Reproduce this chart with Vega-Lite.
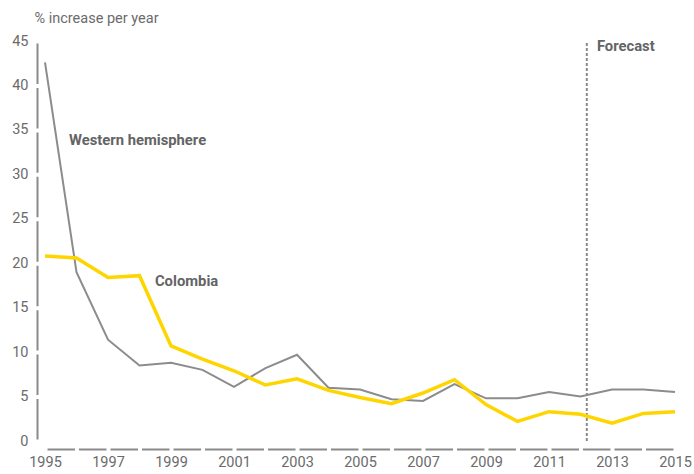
{
  "$schema": "https://vega.github.io/schema/vega-lite/v6.json",
  "width": 630,
  "height": 400,
  "autosize": {"type": "none"},
  "padding": {"left": 45, "top": 41, "right": 19, "bottom": 33},
  "background": "white",
  "config": {
    "view": {"stroke": null},
    "font": "Roboto",
    "axis": {"labelFont": "Roboto", "titleFont": "Roboto", "labelColor": "#6b6b6b", "titleColor": "#6b6b6b", "labelFontSize": 14.5, "grid": false, "ticks": false, "tickSize": 0, "domainColor": "#8a8a8a", "domainWidth": 2}
  },
  "datasets": {
    "series": [
      {"year": 1995, "series": "Western hemisphere", "value": 42.6},
      {"year": 1996, "series": "Western hemisphere", "value": 19.0},
      {"year": 1997, "series": "Western hemisphere", "value": 11.4},
      {"year": 1998, "series": "Western hemisphere", "value": 8.5},
      {"year": 1999, "series": "Western hemisphere", "value": 8.8},
      {"year": 2000, "series": "Western hemisphere", "value": 8.0},
      {"year": 2001, "series": "Western hemisphere", "value": 6.1},
      {"year": 2002, "series": "Western hemisphere", "value": 8.2},
      {"year": 2003, "series": "Western hemisphere", "value": 9.7},
      {"year": 2004, "series": "Western hemisphere", "value": 6.0},
      {"year": 2005, "series": "Western hemisphere", "value": 5.8},
      {"year": 2006, "series": "Western hemisphere", "value": 4.7},
      {"year": 2007, "series": "Western hemisphere", "value": 4.5},
      {"year": 2008, "series": "Western hemisphere", "value": 6.4},
      {"year": 2009, "series": "Western hemisphere", "value": 4.8},
      {"year": 2010, "series": "Western hemisphere", "value": 4.8},
      {"year": 2011, "series": "Western hemisphere", "value": 5.5},
      {"year": 2012, "series": "Western hemisphere", "value": 5.0},
      {"year": 2013, "series": "Western hemisphere", "value": 5.8},
      {"year": 2014, "series": "Western hemisphere", "value": 5.8},
      {"year": 2015, "series": "Western hemisphere", "value": 5.5},
      {"year": 1995, "series": "Colombia", "value": 20.8},
      {"year": 1996, "series": "Colombia", "value": 20.6},
      {"year": 1997, "series": "Colombia", "value": 18.4},
      {"year": 1998, "series": "Colombia", "value": 18.6},
      {"year": 1999, "series": "Colombia", "value": 10.7},
      {"year": 2000, "series": "Colombia", "value": 9.2},
      {"year": 2001, "series": "Colombia", "value": 7.9},
      {"year": 2002, "series": "Colombia", "value": 6.3},
      {"year": 2003, "series": "Colombia", "value": 7.0},
      {"year": 2004, "series": "Colombia", "value": 5.7},
      {"year": 2005, "series": "Colombia", "value": 4.9},
      {"year": 2006, "series": "Colombia", "value": 4.2},
      {"year": 2007, "series": "Colombia", "value": 5.4},
      {"year": 2008, "series": "Colombia", "value": 6.9},
      {"year": 2009, "series": "Colombia", "value": 4.1},
      {"year": 2010, "series": "Colombia", "value": 2.2},
      {"year": 2011, "series": "Colombia", "value": 3.3},
      {"year": 2012, "series": "Colombia", "value": 3.0},
      {"year": 2013, "series": "Colombia", "value": 2.0},
      {"year": 2014, "series": "Colombia", "value": 3.1},
      {"year": 2015, "series": "Colombia", "value": 3.3}
    ],
    "labels": [
      {"year": 1995.76, "value": 33.75, "text": "Western hemisphere"},
      {"year": 1998.49, "value": 17.9, "text": "Colombia"},
      {"year": 2012.52, "value": 44.3, "text": "Forecast"}
    ],
    "forecast": [
      {"year": 2012.2, "lo": 0, "hi": 45}
    ]
  },
  "layer": [
    {
      "data": {"name": "forecast"},
      "mark": {"type": "rule", "color": "#8a8a8a", "strokeWidth": 2, "strokeDash": [3, 2]},
      "encoding": {
        "x": {"field": "year", "type": "quantitative", "scale": {"domain": [1995, 2015], "nice": false, "zero": false},
          "axis": {"values": [1995, 1997, 1999, 2001, 2003, 2005, 2007, 2009, 2011, 2013, 2015], "format": "d", "title": null, "offset": 8, "labelPadding": 6, "domainDash": [27.5, 4], "domainDashOffset": 29.5, "labelFlush": false}},
        "y": {"field": "lo", "type": "quantitative", "scale": {"domain": [0, 45], "nice": false},
          "axis": {"values": [0, 5, 10, 15, 20, 25, 30, 35, 40, 45], "title": "% increase per year", "titleAngle": 0, "titleAlign": "left", "titleBaseline": "alphabetic", "titleX": -3, "titleY": -19, "titleFontSize": 14.5, "titleFontWeight": "normal", "offset": 8, "labelPadding": 9, "domainDash": [40.44, 4], "domainDashOffset": 42.44}},
        "y2": {"field": "hi"}
      }
    },
    {
      "data": {"name": "series"},
      "transform": [{"filter": "datum.series === 'Western hemisphere'"}],
      "mark": {"type": "line", "color": "#8c8c8c", "strokeWidth": 2},
      "encoding": {
        "x": {"field": "year", "type": "quantitative"},
        "y": {"field": "value", "type": "quantitative"}
      }
    },
    {
      "data": {"name": "series"},
      "transform": [{"filter": "datum.series === 'Colombia'"}],
      "mark": {"type": "line", "color": "#ffd500", "strokeWidth": 3.5},
      "encoding": {
        "x": {"field": "year", "type": "quantitative"},
        "y": {"field": "value", "type": "quantitative"}
      }
    },
    {
      "data": {"name": "labels"},
      "mark": {"type": "text", "align": "left", "baseline": "middle", "fontWeight": "bold", "fontSize": 14.8, "color": "#646464", "font": "Roboto"},
      "encoding": {
        "x": {"field": "year", "type": "quantitative"},
        "y": {"field": "value", "type": "quantitative"},
        "text": {"field": "text"}
      }
    }
  ]
}
